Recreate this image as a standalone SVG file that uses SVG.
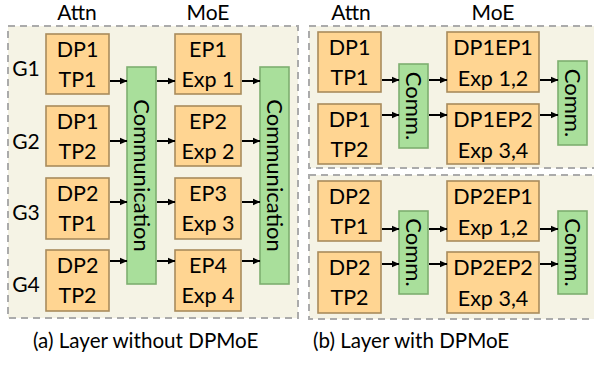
<svg xmlns="http://www.w3.org/2000/svg" width="594" height="369" viewBox="0 0 594 369">
  <defs>
    <marker id="arrow" viewBox="0 0 8 8" refX="7.5" refY="4" markerWidth="8" markerHeight="8" markerUnits="userSpaceOnUse" orient="auto">
      <path d="M0,0.5 L8,4 L0,7.5 Z" fill="#000"/>
    </marker>
    <style>
      .panel { fill: #F5F3E5; stroke: #ABABAB; stroke-width: 2; stroke-dasharray: 7 5; }
      .box { fill: #FFD592; stroke: #A98B5C; stroke-width: 1.6; }
      .bar { fill: #A9DF9B; stroke: #7EAE70; stroke-width: 1.6; }
      text { font-family: Lato, "Open Sans", "Liberation Sans", sans-serif; fill: #000; }
      .t { font-size: 21.5px; text-anchor: middle; }
      .h { font-size: 21px; text-anchor: middle; }
      .g { font-size: 21px; text-anchor: middle; }
      .cap { font-size: 20.6px; }
      .v { font-size: 22px; text-anchor: middle; }
      .conn line { stroke: #000; stroke-width: 2; marker-end: url(#arrow); }
    </style>
  </defs>

  <!-- panels -->
  <rect class="panel" x="8" y="26" width="290" height="292"/>
  <rect class="panel" x="309" y="26" width="290" height="142"/>
  <rect class="panel" x="309" y="175" width="290" height="144"/>

  <!-- column headings -->
  <text class="h" x="77" y="20">Attn</text>
  <text class="h" x="208" y="20">MoE</text>
  <text class="h" x="351" y="20">Attn</text>
  <text class="h" x="493" y="20">MoE</text>

  <!-- group labels -->
  <text class="g" x="26" y="76">G1</text>
  <text class="g" x="26" y="149">G2</text>
  <text class="g" x="26" y="220">G3</text>
  <text class="g" x="26" y="292">G4</text>

  <!-- (a) attention shards -->
  <g id="a-attn-g1"><rect class="box" x="46" y="34" width="63" height="60"/><text class="t" x="77.5" y="57">DP1</text><text class="t" x="77.5" y="87">TP1</text></g>
  <g id="a-attn-g2"><rect class="box" x="46" y="106" width="63" height="60"/><text class="t" x="77.5" y="129">DP1</text><text class="t" x="77.5" y="159">TP2</text></g>
  <g id="a-attn-g3"><rect class="box" x="46" y="178" width="63" height="61"/><text class="t" x="77.5" y="201">DP2</text><text class="t" x="77.5" y="231">TP1</text></g>
  <g id="a-attn-g4"><rect class="box" x="46" y="250" width="63" height="61"/><text class="t" x="77.5" y="273">DP2</text><text class="t" x="77.5" y="303">TP2</text></g>

  <!-- (a) communication bars -->
  <g id="a-comm1"><rect class="bar" x="127" y="67" width="29" height="217"/><text class="v" transform="translate(141.5,175.5) rotate(90)" y="7.5">Communication</text></g>
  <g id="a-comm2"><rect class="bar" x="260" y="67" width="29" height="217"/><text class="v" transform="translate(274.5,175.5) rotate(90)" y="7.5">Communication</text></g>

  <!-- (a) experts -->
  <g id="a-ep1"><rect class="box" x="175" y="34" width="66" height="60"/><text class="t" x="208" y="57">EP1</text><text class="t" x="208" y="87">Exp 1</text></g>
  <g id="a-ep2"><rect class="box" x="175" y="106" width="66" height="60"/><text class="t" x="208" y="129">EP2</text><text class="t" x="208" y="159">Exp 2</text></g>
  <g id="a-ep3"><rect class="box" x="175" y="178" width="66" height="61"/><text class="t" x="208" y="201">EP3</text><text class="t" x="208" y="231">Exp 3</text></g>
  <g id="a-ep4"><rect class="box" x="175" y="250" width="66" height="61"/><text class="t" x="208" y="273">EP4</text><text class="t" x="208" y="303">Exp 4</text></g>

  <!-- (b) top: DP1 -->
  <g id="b-dp1-tp1"><rect class="box" x="318" y="32" width="63" height="60"/><text class="t" x="349.5" y="55">DP1</text><text class="t" x="349.5" y="85">TP1</text></g>
  <g id="b-dp1-tp2"><rect class="box" x="318" y="104" width="63" height="60"/><text class="t" x="349.5" y="127">DP1</text><text class="t" x="349.5" y="157">TP2</text></g>
  <g id="b-dp1-comm1"><rect class="bar" x="399" y="64" width="29" height="84"/><text class="v" transform="translate(413.5,106) rotate(90)" y="7.5">Comm.</text></g>
  <g id="b-dp1-ep1"><rect class="box" x="447" y="32" width="92" height="60"/><text class="t" x="493" y="55">DP1EP1</text><text class="t" x="493" y="86">Exp 1,2</text></g>
  <g id="b-dp1-ep2"><rect class="box" x="447" y="104" width="92" height="60"/><text class="t" x="493" y="127">DP1EP2</text><text class="t" x="493" y="158">Exp 3,4</text></g>
  <g id="b-dp1-comm2"><rect class="bar" x="558" y="61" width="29" height="84"/><text class="v" transform="translate(572.5,103) rotate(90)" y="7.5">Comm.</text></g>

  <!-- (b) bottom: DP2 -->
  <g id="b-dp2-tp1"><rect class="box" x="318" y="181" width="63" height="60"/><text class="t" x="349.5" y="204">DP2</text><text class="t" x="349.5" y="234">TP1</text></g>
  <g id="b-dp2-tp2"><rect class="box" x="318" y="252" width="63" height="61"/><text class="t" x="349.5" y="275">DP2</text><text class="t" x="349.5" y="305">TP2</text></g>
  <g id="b-dp2-comm1"><rect class="bar" x="399" y="211" width="29" height="83"/><text class="v" transform="translate(413.5,252.5) rotate(90)" y="7.5">Comm.</text></g>
  <g id="b-dp2-ep1"><rect class="box" x="447" y="181" width="92" height="60"/><text class="t" x="493" y="204">DP2EP1</text><text class="t" x="493" y="235">Exp 1,2</text></g>
  <g id="b-dp2-ep2"><rect class="box" x="447" y="252" width="92" height="61"/><text class="t" x="493" y="275">DP2EP2</text><text class="t" x="493" y="306">Exp 3,4</text></g>
  <g id="b-dp2-comm2"><rect class="bar" x="558" y="211" width="29" height="83"/><text class="v" transform="translate(572.5,252.5) rotate(90)" y="7.5">Comm.</text></g>

  <!-- connectors -->
  <g id="connectors" class="conn">
    <line x1="110" y1="81" x2="127" y2="81"/>
    <line x1="110" y1="141" x2="127" y2="141"/>
    <line x1="110" y1="202" x2="127" y2="202"/>
    <line x1="110" y1="261" x2="127" y2="261"/>
    <line x1="157" y1="81" x2="175" y2="81"/>
    <line x1="157" y1="141" x2="175" y2="141"/>
    <line x1="157" y1="202" x2="175" y2="202"/>
    <line x1="157" y1="261" x2="175" y2="261"/>
    <line x1="242" y1="81" x2="260" y2="81"/>
    <line x1="242" y1="141" x2="260" y2="141"/>
    <line x1="242" y1="202" x2="260" y2="202"/>
    <line x1="242" y1="261" x2="260" y2="261"/>

    <line x1="382" y1="80" x2="399" y2="80"/>
    <line x1="382" y1="115" x2="399" y2="115"/>
    <line x1="429" y1="80" x2="447" y2="80"/>
    <line x1="429" y1="115" x2="447" y2="115"/>
    <line x1="540" y1="80" x2="558" y2="80"/>
    <line x1="540" y1="115" x2="558" y2="115"/>

    <line x1="382" y1="229" x2="399" y2="229"/>
    <line x1="382" y1="264" x2="399" y2="264"/>
    <line x1="429" y1="229" x2="447" y2="229"/>
    <line x1="429" y1="264" x2="447" y2="264"/>
    <line x1="540" y1="229" x2="558" y2="229"/>
    <line x1="540" y1="264" x2="558" y2="264"/>
  </g>

  <!-- captions -->
  <text class="cap" x="33" y="348">(a) Layer without DPMoE</text>
  <text class="cap" x="313" y="348">(b) Layer with DPMoE</text>
</svg>
